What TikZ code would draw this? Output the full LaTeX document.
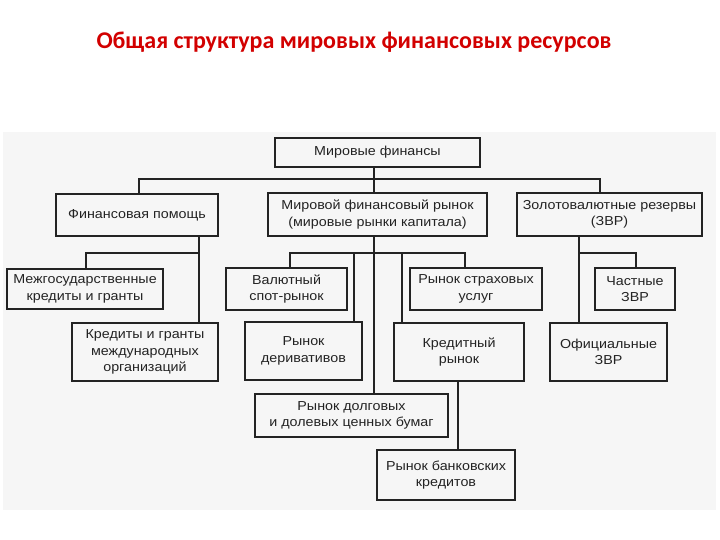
\documentclass[tikz,border=0pt]{standalone}
\usepackage{fontspec}
\setmainfont{Liberation Sans}[FakeStretch=1.1]
\newfontfamily\titlefont{Carlito}
\usepackage{xcolor}
\definecolor{TitleRed}{RGB}{210,0,0}
\definecolor{ScanGray}{RGB}{246,246,246}
\definecolor{InkGray}{RGB}{35,35,35}
\tikzset{
  box/.style={draw=InkGray, line width=1.4pt, align=center, inner sep=0pt,
    text=InkGray, font=\fontsize{13}{16.5}\selectfont},
  link/.style={draw=InkGray, line width=1.4pt}
}

\begin{document}
\begin{tikzpicture}[x=1pt, y=-1pt]
  \useasboundingbox (0,0) rectangle (720,540);
  \fill[ScanGray] (3,132) rectangle (716,510);
  \node[text=TitleRed, font=\titlefont\bfseries\fontsize{24}{28}\selectfont] (title) at (354,42) {Общая структура мировых финансовых ресурсов};

  % top levels
  \node[box, minimum width=205pt, minimum height=29pt] (world) at (377.5,152.5) {Мировые финансы};
  \node[box, minimum width=162pt, minimum height=42pt] (aid) at (137,215) {Финансовая помощь};
  \node[box, minimum width=219pt, minimum height=43pt] (market) at (377.5,214.5) {Мировой финансовый рынок\\(мировые рынки капитала)};
  \node[box, minimum width=185pt, minimum height=43pt] (reserves) at (609.5,214.5) {Золотовалютные резервы\\(ЗВР)};

  % financial aid
  \node[box, minimum width=156pt, minimum height=40pt] (interstate) at (85,289) {Межгосударственные\\кредиты и гранты};
  \node[box, minimum width=146pt, minimum height=58pt] (intl) at (145,352) {Кредиты и гранты\\международных\\организаций};

  % world market
  \node[box, minimum width=121pt, minimum height=42pt] (spot) at (286.5,289) {Валютный\\спот-рынок};
  \node[box, minimum width=117pt, minimum height=58pt] (deriv) at (303.5,351) {Рынок\\деривативов};
  \node[box, minimum width=193pt, minimum height=43pt] (securities) at (351.5,415.5) {Рынок долговых\\и долевых ценных бумаг};
  \node[box, minimum width=132pt, minimum height=42pt] (insurance) at (476,289) {Рынок страховых\\услуг};
  \node[box, minimum width=130pt, minimum height=58pt] (credit) at (459,352) {Кредитный\\рынок};
  \node[box, minimum width=138pt, minimum height=50pt] (bank) at (446,475) {Рынок банковских\\кредитов};

  % reserves
  \node[box, minimum width=80pt, minimum height=42pt] (private) at (635,289) {Частные\\ЗВР};
  \node[box, minimum width=117pt, minimum height=58pt] (official) at (608.5,352) {Официальные\\ЗВР};

  % junctions
  \coordinate (top) at (374,179);
  \coordinate (aidbus) at (199,253);
  \coordinate (mktbus) at (374,253);
  \coordinate (zvrbus) at (579,253);

  \draw[link] (world.south -| top) -- (top);
  \draw[link] (aid.north -| 139,0) |- (top) -| (reserves.north -| 600,0);
  \draw[link] (top) -- (market.north -| top);

  \draw[link] (aid.south -| aidbus) -- (intl.north -| aidbus);
  \draw[link] (aidbus) -| (interstate.north -| 86,0);

  \draw[link] (market.south -| mktbus) -- (securities.north -| mktbus);
  \draw[link] (spot.north -| 290,0) |- (mktbus) -| (insurance.north -| 465,0);
  \draw[link] (deriv.north -| 354,0) |- (mktbus);
  \draw[link] (credit.north -| 402,0) |- (mktbus);
  \draw[link] (credit.south -| 458,0) -- (bank.north -| 458,0);

  \draw[link] (reserves.south -| zvrbus) -- (official.north -| zvrbus);
  \draw[link] (zvrbus) -| (private.north -| 636,0);
\end{tikzpicture}
\end{document}
